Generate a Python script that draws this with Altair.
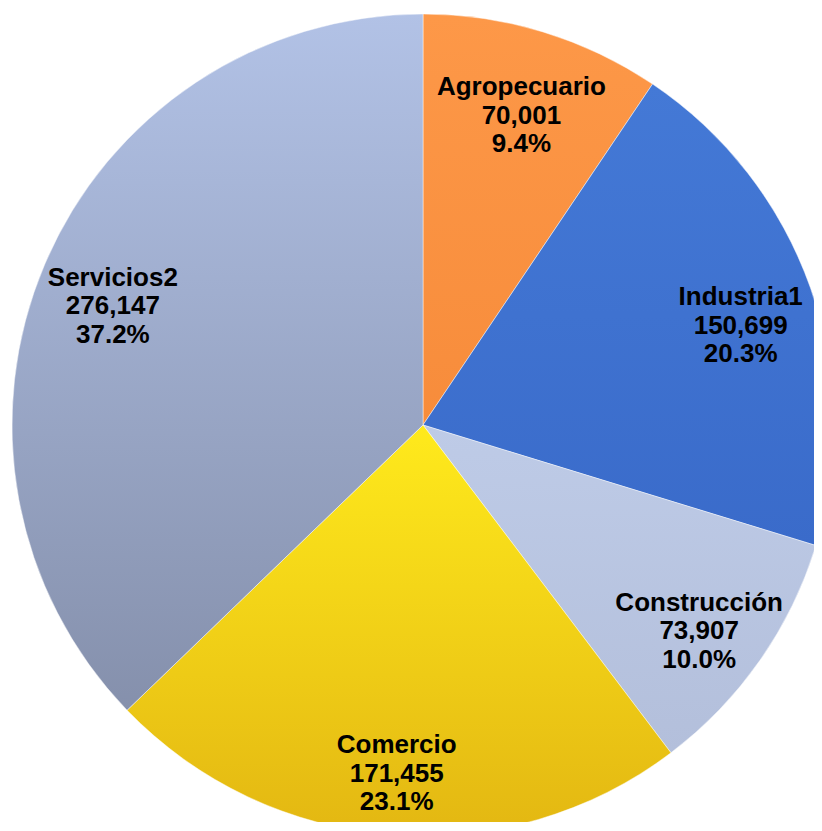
import altair as alt
import pandas as pd

categories = ["Agropecuario", "Industria1", "Construcción", "Comercio", "Servicios2"]
values = [70001, 150699, 73907, 171455, 276147]
colors_top = ["#FD9848", "#4479D6", "#BECBE7", "#FFEA1C", "#B2C2E6"]
colors_bottom = ["#F78C3B", "#3A6BCA", "#B3BFDB", "#E3B712", "#8590AC"]

df = pd.DataFrame({"cat": categories, "value": values, "idx": list(range(len(categories)))})
total_value = sum(values)

CX, CY, R, LR = 415, 417, 411, 337
LH = 28.5

base = (
    alt.Chart(df)
    .transform_joinaggregate(total="sum(value)")
    .transform_window(cum="sum(value)", sort=[alt.SortField("idx")], frame=[None, 0])
    .transform_calculate(
        start="datum.cum - datum.value",
        mid="datum.cum - datum.value / 2",
        label="datum.cat + '\\n' + format(datum.value, ',') + '\\n' + format(datum.value / datum.total, '.1%')",
    )
)

sc = alt.Scale(domain=[0, total_value], zero=True, nice=False, range=[0, 6.283185307179586])

layers = []
for i in range(len(categories)):
    grad = alt.Gradient(
        gradient="linear",
        stops=[
            alt.GradientStop(color=colors_top[i], offset=0),
            alt.GradientStop(color=colors_bottom[i], offset=1),
        ],
        x1=0, x2=0, y1=0, y2=1,
    )
    layers.append(
        base.transform_filter(f"datum.idx == {i}")
        .mark_arc(fill=grad, radius=R, stroke="#ffffff", strokeWidth=1, strokeOpacity=0.45)
        .encode(
            theta=alt.Theta("start:Q", scale=sc),
            theta2="cum:Q",
            x=alt.value(CX),
            y=alt.value(CY),
        )
    )

text = base.mark_text(
    font="Liberation Sans",
    fontWeight="bold",
    fontSize=26,
    lineHeight=LH,
    lineBreak="\n",
    align="center",
    baseline="middle",
    color="#000000",
    radius=LR,
    dy=-LH + 13,
).encode(
    theta=alt.Theta("mid:Q", scale=sc),
    x=alt.value(CX),
    y=alt.value(CY),
    text="label:N",
)

chart = (
    alt.layer(*layers, text)
    .properties(width=806, height=814, padding=0, autosize="none", background="#ffffff")
    .configure_view(stroke=None)
)

chart.save("out.html", embed_options={"renderer": "svg", "actions": False})
